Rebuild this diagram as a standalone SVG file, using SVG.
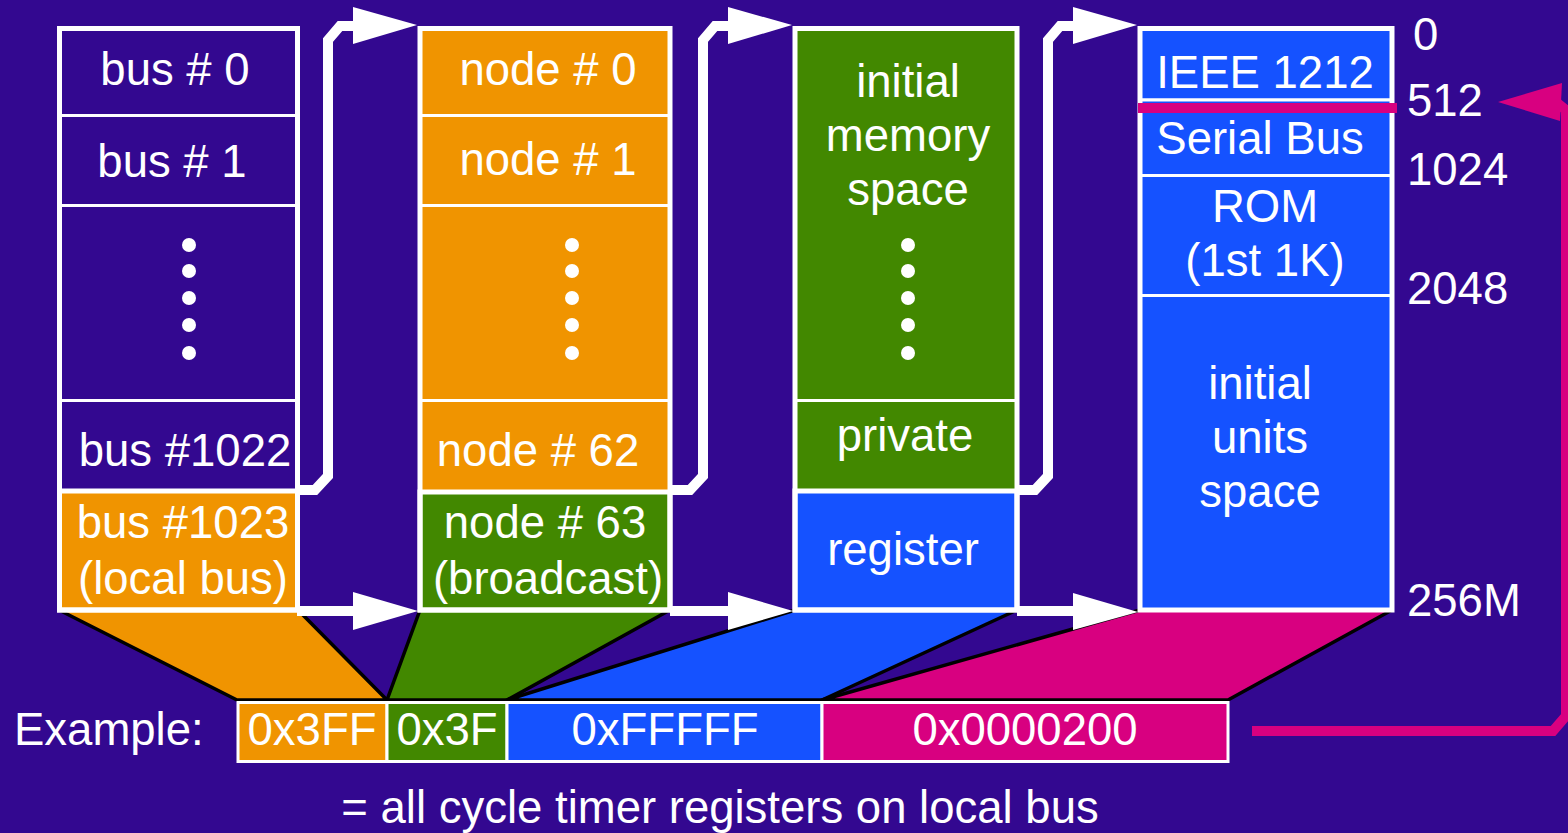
<svg xmlns="http://www.w3.org/2000/svg" width="1568" height="833" viewBox="0 0 1568 833">
<style>
text{font-family:"Liberation Sans",Arial,sans-serif;font-size:45.5px;fill:#fff}
.c{text-anchor:middle}
.cell{stroke:#fff;stroke-width:3}
.sel{stroke:#fff;stroke-width:5}
.outer{fill:none;stroke:#fff;stroke-width:5}
.bg{fill:#330890}.or{fill:#f09400}.gr{fill:#428800}.bl{fill:#1552ff}.pk{fill:#d80080}
.trap{stroke:#000;stroke-width:3.5;stroke-linejoin:round}
.wl{fill:none;stroke:#fff;stroke-width:10;stroke-linejoin:miter}
.ah{fill:#fff}
.dot{fill:#fff}
</style>
<rect width="1568" height="833" fill="#330890"/>
<g id="mapping">
<polygon class="trap or" points="59,610 298,610 387,700 237,700"/>
<polygon class="trap gr" points="420,610 670,610 507,700 387,700"/>
<polygon class="trap bl" points="795,610 1017,610 822,700 507,700"/>
<polygon class="trap pk" points="1140,610 1392,610 1228,700 822,700"/>
</g>
<g id="col-bus">
<rect class="cell bg" x="59.5" y="28.5" width="238" height="87"/>
<rect class="cell bg" x="59.5" y="115.5" width="238" height="90"/>
<rect class="cell bg" x="59.5" y="205.5" width="238" height="195"/>
<rect class="cell bg" x="59.5" y="400.5" width="238" height="90"/>
<rect class="sel or" x="59.5" y="491" width="238" height="119"/>
<rect class="outer" x="59.5" y="28.5" width="238" height="581.5"/>
<text class="c" x="175" y="85">bus # 0</text>
<text class="c" x="172" y="177">bus # 1</text>
<circle class="dot" cx="189" cy="245" r="7"/><circle class="dot" cx="189" cy="271" r="7"/><circle class="dot" cx="189" cy="298" r="7"/><circle class="dot" cx="189" cy="325" r="7"/><circle class="dot" cx="189" cy="353" r="7"/>
<text class="c" x="185" y="466">bus #1022</text>
<text class="c" x="183" y="538">bus #1023</text>
<text class="c" x="183" y="594">(local bus)</text>
</g>
<g id="col-node">
<rect class="cell or" x="420" y="28.5" width="250" height="87"/>
<rect class="cell or" x="420" y="115.5" width="250" height="90"/>
<rect class="cell or" x="420" y="205.5" width="250" height="195"/>
<rect class="cell or" x="420" y="400.5" width="250" height="91"/>
<rect class="sel gr" x="420" y="492" width="250" height="118"/>
<rect class="outer" x="420" y="28.5" width="250" height="581.5"/>
<text class="c" x="548" y="85">node # 0</text>
<text class="c" x="548" y="175">node # 1</text>
<circle class="dot" cx="572" cy="245" r="7"/><circle class="dot" cx="572" cy="271" r="7"/><circle class="dot" cx="572" cy="298" r="7"/><circle class="dot" cx="572" cy="325" r="7"/><circle class="dot" cx="572" cy="353" r="7"/>
<text class="c" x="538" y="466">node # 62</text>
<text class="c" x="545" y="538">node # 63</text>
<text class="c" x="548" y="594">(broadcast)</text>
</g>
<g id="col-space">
<rect class="cell gr" x="795" y="28.5" width="222" height="372"/>
<rect class="cell gr" x="795" y="400.5" width="222" height="90"/>
<rect class="sel bl" x="795" y="491" width="222" height="119"/>
<rect class="outer" x="795" y="28.5" width="222" height="581.5"/>
<text class="c" x="908" y="97">initial</text>
<text class="c" x="908" y="151">memory</text>
<text class="c" x="908" y="205">space</text>
<circle class="dot" cx="908" cy="245" r="7"/><circle class="dot" cx="908" cy="271" r="7"/><circle class="dot" cx="908" cy="298" r="7"/><circle class="dot" cx="908" cy="325" r="7"/><circle class="dot" cx="908" cy="353" r="7"/>
<text class="c" x="905" y="451">private</text>
<text class="c" x="903" y="565">register</text>
</g>
<g id="col-register">
<rect class="cell bl" x="1140" y="28.5" width="252" height="71.5"/>
<rect class="cell bl" x="1140" y="100" width="252" height="75.5"/>
<rect class="cell bl" x="1140" y="175.5" width="252" height="120"/>
<rect class="cell bl" x="1140" y="295.5" width="252" height="314.5"/>
<rect class="outer" x="1140" y="28.5" width="252" height="581.5"/>
<rect class="pk" x="1138" y="103" width="259" height="10"/>
<text class="c" x="1265" y="88">IEEE 1212</text>
<text class="c" x="1260" y="154">Serial Bus</text>
<text class="c" x="1265" y="222">ROM</text>
<text class="c" x="1265" y="276">(1st 1K)</text>
<text class="c" x="1260" y="399">initial</text>
<text class="c" x="1260" y="453">units</text>
<text class="c" x="1260" y="507">space</text>
</g>
<g id="offsets">
<text x="1413" y="50">0</text>
<text x="1407" y="116">512</text>
<text x="1407" y="185">1024</text>
<text x="1407" y="304">2048</text>
<text x="1407" y="616">256M</text>
</g>
<g id="example">
<text x="14" y="745">Example:</text>
<rect class="cell or" x="238" y="702.5" width="149" height="59"/>
<rect class="cell gr" x="387" y="702.5" width="120" height="59"/>
<rect class="cell bl" x="507" y="702.5" width="315" height="59"/>
<rect class="cell pk" x="822" y="702.5" width="406" height="59"/>
<text class="c" x="312" y="745">0x3FF</text>
<text class="c" x="447" y="745">0x3F</text>
<text class="c" x="665" y="745">0xFFFFF</text>
<text class="c" x="1025" y="745">0x0000200</text>
<text class="c" x="720" y="823">= all cycle timer registers on local bus</text>
</g>
<g id="connectors">
<polyline class="wl" points="297,490 315,490 328,476 328,40 340,26 356,26"/>
<polygon class="ah" points="353,7 417,25 353,44"/>
<polyline class="wl" points="297,611 356,611"/>
<polygon class="ah" points="353,592 418,611 353,630"/>
<polyline class="wl" points="670,490 690,490 703,476 703,40 715,26 731,26"/>
<polygon class="ah" points="728,7 792,25 728,44"/>
<polyline class="wl" points="670,611 731,611"/>
<polygon class="ah" points="728,592 793,611 728,630"/>
<polyline class="wl" points="1017,490 1035,490 1048,476 1048,40 1060,26 1076,26"/>
<polygon class="ah" points="1073,7 1137,25 1073,44"/>
<polyline class="wl" points="1017,611 1076,611"/>
<polygon class="ah" points="1073,593 1138,612 1073,630"/>
<polyline points="1252,731 1553,731 1566,716 1566,110 1556,102 1540,102" fill="none" stroke="#d80080" stroke-width="10" stroke-linejoin="miter"/>
<polygon class="pk" points="1498,102 1562,83 1560,121"/>
</g>
</svg>
